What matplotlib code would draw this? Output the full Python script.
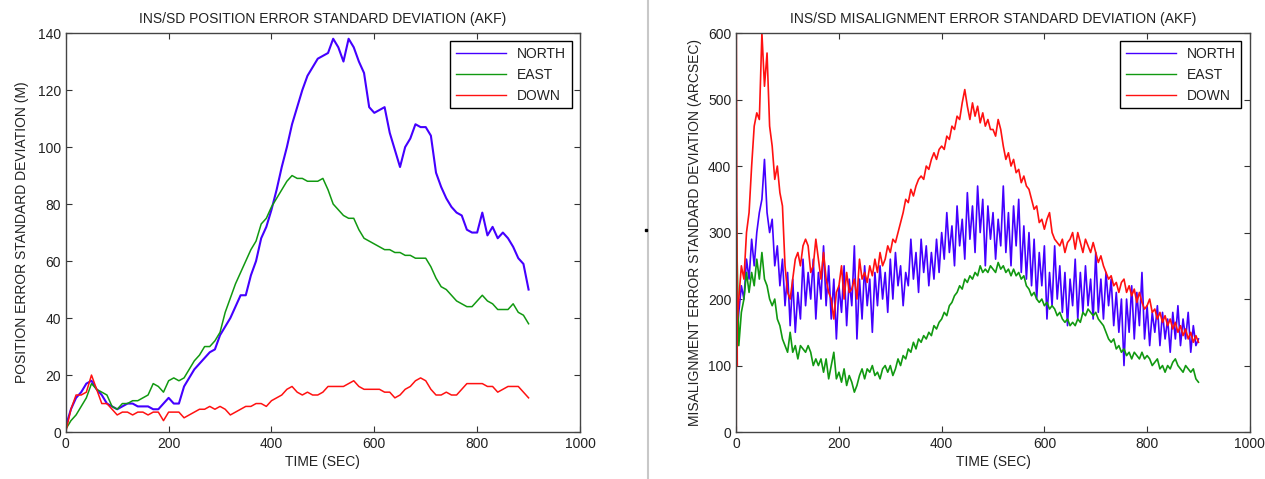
import matplotlib
matplotlib.use("Agg")
import matplotlib.pyplot as plt
from matplotlib.lines import Line2D

plt.rcParams['font.family'] = ['Liberation Sans', 'DejaVu Sans']

# ---------- left panel: position error std (m), sampled every 10 s ----------
t_pos = list(range(0, 901, 10))
pos_north = [2, 8, 12, 14, 17, 18, 15, 13, 10, 9,
             8, 9, 10, 10, 9, 9, 9, 8, 8, 10,
             12, 10, 10, 16, 19, 22, 24, 26, 28, 29,
             34, 37, 40, 44, 48, 48, 55, 60, 68, 72,
             78, 85, 93, 100, 108, 114, 120, 125, 128, 131,
             132, 133, 138, 135, 130, 138, 135, 130, 126, 114,
             112, 113, 114, 105, 99, 93, 100, 103, 108, 107,
             107, 104, 91, 86, 82, 79, 77, 76, 71, 70,
             70, 77, 69, 72, 68, 70, 68, 65, 61, 59,
             50]
pos_east = [1, 4, 6, 9, 12, 17, 15, 14, 13, 9,
            8, 10, 10, 11, 11, 12, 13, 17, 16, 14,
            18, 19, 18, 19, 22, 25, 27, 30, 30, 32,
            35, 42, 47, 52, 56, 60, 64, 67, 73, 75,
            79, 82, 85, 88, 90, 89, 89, 88, 88, 88,
            89, 85, 80, 78, 76, 75, 75, 71, 68, 67,
            66, 65, 64, 64, 63, 63, 62, 62, 61, 61,
            61, 58, 54, 51, 50, 48, 46, 45, 44, 44,
            46, 48, 46, 45, 43, 43, 43, 45, 42, 41,
            38]
pos_down = [0, 8, 13, 13, 14, 20, 15, 10, 10, 8,
            6, 7, 7, 6, 7, 7, 6, 7, 7, 4,
            7, 7, 7, 5, 6, 7, 8, 8, 9, 8,
            9, 8, 6, 7, 8, 9, 9, 10, 10, 9,
            11, 12, 13, 15, 16, 14, 13, 14, 13, 13,
            14, 16, 16, 16, 16, 17, 18, 16, 15, 15,
            15, 15, 14, 14, 12, 13, 15, 16, 18, 19,
            18, 15, 13, 13, 14, 13, 13, 15, 17, 17,
            17, 17, 16, 16, 14, 15, 16, 16, 16, 14,
            12]

# ---------- right panel: misalignment error std (arcsec), every 5 s ----------
t_mis = list(range(0, 901, 5))
mis_north = [130, 180, 220, 200, 260, 230, 290, 250, 300, 330,
             350, 410, 330, 300, 320, 250, 280, 220, 260, 190,
             240, 160, 230, 150, 210, 170, 260, 190, 240, 200,
             260, 170, 240, 200, 280, 190, 250, 170, 230, 140,
             220, 180, 250, 160, 230, 190, 280, 140, 230, 170,
             250, 190, 230, 150, 240, 190, 250, 200, 240, 180,
             260, 200, 270, 220, 250, 190, 240, 220, 290, 230,
             270, 210, 290, 240, 280, 220, 270, 230, 290, 240,
             300, 260, 330, 270, 310, 250, 340, 280, 320, 260,
             360, 290, 340, 270, 370, 300, 350, 250, 340, 290,
             330, 260, 320, 280, 370, 270, 330, 250, 340, 280,
             350, 240, 310, 230, 300, 220, 290, 200, 270, 220,
             280, 170, 240, 190, 280, 200, 250, 180, 240, 160,
             230, 190, 260, 170, 240, 180, 250, 190, 230, 170,
             270, 180, 230, 170, 240, 190, 230, 160, 210, 150,
             200, 100, 200, 150, 220, 140, 210, 160, 240, 140,
             190, 130, 180, 150, 190, 130, 180, 140, 170, 120,
             180, 140, 190, 130, 170, 140, 180, 120, 160, 130,
             140]
mis_east = [330, 130, 180, 200, 240, 210, 240, 220, 260, 230,
            270, 230, 220, 200, 190, 200, 170, 160, 140, 130,
            120, 150, 120, 130, 110, 130, 125, 120, 130, 120,
            100, 110, 100, 110, 90, 110, 80, 100, 120, 80,
            90, 75, 95, 70, 85, 75, 60, 70, 85, 95,
            80, 95, 90, 100, 85, 90, 80, 95, 100, 90,
            100, 85, 95, 110, 100, 115, 110, 125, 120, 135,
            125, 140, 135, 145, 140, 150, 145, 160, 155, 165,
            170, 180, 175, 190, 195, 205, 210, 220, 215, 230,
            225, 235, 230, 240, 235, 250, 240, 245, 240, 250,
            245, 240, 255, 245, 250, 240, 245, 235, 245, 235,
            240, 230, 235, 220, 215, 205, 210, 200, 195, 200,
            190, 195, 185, 190, 185, 175, 180, 170, 165, 170,
            160, 165, 160, 170, 165, 180, 175, 185, 180, 175,
            180, 170, 165, 160, 150, 140, 135, 140, 125, 130,
            120, 125, 115, 120, 110, 120, 115, 110, 120, 110,
            115, 110, 100, 105, 110, 95, 100, 90, 100, 95,
            105, 110, 100, 95, 90, 100, 95, 90, 95, 80,
            75]
# down channel starts with a jump 0 -> 600 -> 100 in the first seconds
mis_down_t0 = [0, 0, 2]
mis_down_v0 = [0, 600, 100]
mis_down = [150, 200, 250, 230, 300, 330, 400, 460, 480, 470,
            600, 520, 570, 460, 430, 380, 400, 360, 340, 250,
            210, 200, 230, 260, 270, 250, 280, 290, 280, 240,
            250, 290, 260, 230, 270, 230, 210, 200, 170, 210,
            220, 250, 200, 240, 210, 215, 230, 200, 260, 230,
            240, 225, 250, 235, 260, 240, 270, 250, 260, 280,
            270, 290, 285, 300, 315, 330, 350, 345, 365, 355,
            370, 380, 385, 380, 400, 395, 410, 420, 410, 425,
            430, 425, 445, 440, 460, 455, 475, 470, 495, 515,
            490, 470, 495, 475, 490, 465, 480, 460, 470, 455,
            455, 445, 470, 455, 430, 410, 420, 400, 410, 390,
            395, 375, 385, 370, 365, 350, 335, 340, 315, 320,
            305, 320, 330, 300, 290, 285, 280, 290, 270, 285,
            290, 300, 275, 300, 285, 270, 290, 280, 270, 285,
            270, 255, 265, 250, 240, 230, 235, 220, 225, 210,
            225, 230, 210, 220, 205, 215, 195, 210, 195, 185,
            190, 200, 180, 185, 170, 180, 165, 175, 160, 170,
            155, 165, 150, 160, 145, 155, 140, 150, 135, 145,
            135]

c_north = '#4400ff'
c_east = '#119911'
c_down = '#ff1111'
txt = '#222222'

fig = plt.figure(figsize=(12.65, 4.79), dpi=100)
ax1 = fig.add_axes([0.052, 0.098, 0.4065, 0.833])
ax2 = fig.add_axes([0.582, 0.098, 0.406, 0.833])

ax1.plot(t_pos, pos_north, color=c_north, lw=1.5, label='NORTH')
ax1.plot(t_pos, pos_east, color=c_east, lw=1.1, label='EAST')
ax1.plot(t_pos, pos_down, color=c_down, lw=1.1, label='DOWN')
ax1.set_ylim(0, 140)
ax1.set_yticks(range(0, 141, 20))
ax1.set_title('INS/SD POSITION ERROR STANDARD DEVIATION (AKF)', fontsize=10, color=txt, pad=7)
ax1.set_ylabel('POSITION ERROR STANDARD DEVIATION (M)', fontsize=10, color=txt, labelpad=6)

ax2.plot(t_mis, mis_north, color=c_north, lw=1.2, label='NORTH')
ax2.plot(t_mis, mis_east, color=c_east, lw=1.2, label='EAST')
ax2.plot(mis_down_t0 + t_mis, mis_down_v0 + mis_down, color=c_down, lw=1.2, label='DOWN')
ax2.set_ylim(0, 600)
ax2.set_yticks(range(0, 601, 100))
ax2.set_title('INS/SD MISALIGNMENT ERROR STANDARD DEVIATION (AKF)', fontsize=10, color=txt, pad=7)
ax2.set_ylabel('MISALIGNMENT ERROR STANDARD DEVIATION (ARCSEC)', fontsize=10, color=txt, labelpad=4)

for ax in (ax1, ax2):
    ax.set_xlim(0, 1000)
    ax.set_xticks(range(0, 1001, 200))
    ax.set_xlabel('TIME (SEC)', fontsize=10, color=txt, labelpad=3)
    ax.tick_params(direction='in', top=True, right=True, length=4, labelsize=10,
                   colors='#333333', labelcolor=txt)
    for s in ax.spines.values():
        s.set_color('#444444')
        s.set_linewidth(1.0)
    leg = ax.legend(loc='upper right', fontsize=10, fancybox=False, framealpha=1,
                    edgecolor='black', handlelength=3.6, borderaxespad=0.6,
                    labelspacing=0.5)
    leg.get_frame().set_linewidth(1.0)
    for line in leg.get_lines():
        line.set_linewidth(1.0)
    for t in leg.get_texts():
        t.set_color(txt)

# separator between the two panels
fig.add_artist(Line2D([0.5125, 0.5125], [0.0, 1.0], color='#c8c8c8', lw=1.5))
fig.add_artist(Line2D([0.5105], [0.52], marker='s', markersize=2, color='black', lw=0))

fig.savefig('out.png', dpi=100, facecolor='white')
